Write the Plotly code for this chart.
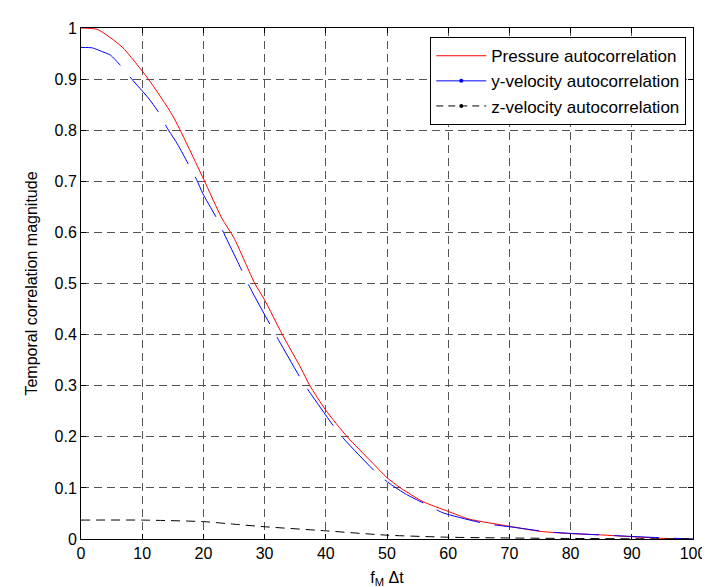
import plotly.graph_objects as go

# Pressure autocorrelation
p_x = [0, 2.7, 6.7, 11, 15, 20, 23, 25, 28.4, 30, 32.9, 36, 37.4, 40, 43.5, 47.3, 50, 52.2,
       55.9, 60, 63.4, 70, 75, 80, 85, 90, 95.6, 100]
p_y = [1.0, 0.997, 0.963, 0.9, 0.828, 0.705, 0.628, 0.589, 0.5, 0.468, 0.4, 0.333, 0.3, 0.252,
       0.2, 0.153, 0.12, 0.1, 0.073, 0.054, 0.039, 0.025, 0.015, 0.0105, 0.008, 0.0045, 0.001, 0.0]

# y-velocity autocorrelation
v_x = [0, 1.9, 3.2, 4.8, 6.5, 8.3, 11, 12.8, 14, 15.9, 17.7, 18.9, 19.9, 22.3, 23.4, 25.5, 27.7,
       31.2, 32.4, 36, 37.5, 41.7, 43.4, 48.4, 50.5, 53.2, 56.7, 59.2, 66.1, 70, 76.3, 80, 90,
       95.6, 100]
v_y = [0.962, 0.961, 0.955, 0.947, 0.926, 0.9, 0.863, 0.833, 0.806, 0.77, 0.73, 0.703, 0.676,
       0.625, 0.597, 0.545, 0.49, 0.413, 0.387, 0.312, 0.285, 0.214, 0.19, 0.128, 0.108, 0.087,
       0.066, 0.051, 0.03, 0.024, 0.014, 0.011, 0.005, 0.002, 0.0]

# z-velocity autocorrelation
w_x = [0, 10, 20, 25, 30, 40, 50, 60, 70, 80, 90, 100]
w_y = [0.037, 0.037, 0.034, 0.029, 0.024, 0.016, 0.0075, 0.0035, 0.002, 0.001, 0.0005, 0.0]

x_ticks = [0, 10, 20, 30, 40, 50, 60, 70, 80, 90, 100]
y_ticks = [0, 0.1, 0.2, 0.3, 0.4, 0.5, 0.6, 0.7, 0.8, 0.9, 1]
y_tick_labels = ["0", "0.1", "0.2", "0.3", "0.4", "0.5", "0.6", "0.7", "0.8", "0.9", "1"]

FONT = "Liberation Sans, Arial, sans-serif"

fig = go.Figure()
series = [
    ("Pressure autocorrelation", p_x, p_y, "#ff0000", "solid", False),
    ("y-velocity autocorrelation", v_x, v_y, "#0000ff", "45px,15px", True),
    ("z-velocity autocorrelation", w_x, w_y, "#000000", "9px,6px", True),
]
for name, xs, ys, col, dash, dotted in series:
    fig.add_trace(go.Scatter(x=xs, y=ys, mode="lines", name=name, legendgroup=name,
                             showlegend=False,
                             line=dict(color=col, width=1, dash=dash, shape="spline",
                                       smoothing=0.6)))
    # legend entry (MATLAB-style line with point marker)
    leg_dash = "solid" if col != "#000000" else "7px,5px"
    fig.add_trace(go.Scatter(x=[None], y=[None], mode="lines+markers" if dotted else "lines",
                             name=name, legendgroup=name, showlegend=True,
                             line=dict(color=col, width=1, dash=leg_dash),
                             marker=dict(size=4, color=col)))

axis_common = dict(
    showline=True, linecolor="black", linewidth=1, mirror="ticks",
    ticks="inside", ticklen=5, tickcolor="black",
    showgrid=True, gridcolor="#555555", gridwidth=1, griddash="8px,5px",
    zeroline=False, tickfont=dict(family=FONT, size=16, color="black"),
)

fig.update_layout(
    width=710, height=587,
    margin=dict(l=73, r=16, t=14, b=55),
    paper_bgcolor="white", plot_bgcolor="white",
    font=dict(family=FONT, size=16, color="black"),
    showlegend=True,
    legend=dict(x=0.989, y=0.982, xanchor="right", yanchor="top",
                bgcolor="white", bordercolor="black", borderwidth=1,
                font=dict(family=FONT, size=17, color="black"),
                itemwidth=50, tracegroupgap=0),
    xaxis=dict(range=[0, 100], tickvals=x_ticks,
               title=dict(text="f<sub>M</sub> Δt", standoff=10,
                          font=dict(family=FONT, size=16)),
               **axis_common),
    yaxis=dict(range=[0, 1], tickvals=y_ticks, ticktext=y_tick_labels,
               title=dict(text="Temporal correlation magnitude", standoff=12,
                          font=dict(family=FONT, size=16)),
               **axis_common),
)

fig.write_html("out.html")
